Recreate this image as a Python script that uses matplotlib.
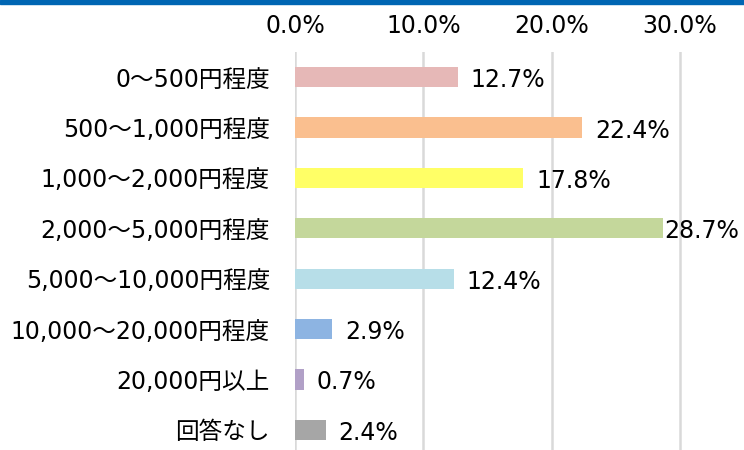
import numpy as np
import matplotlib.pyplot as plt

categories = ['0～500円程度', '500～1,000円程度', '1,000～2,000円程度', '2,000～5,000円程度',
              '5,000～10,000円程度', '10,000～20,000円程度', '20,000円以上', '回答なし']
values = [12.7, 22.4, 17.8, 28.7, 12.4, 2.9, 0.7, 2.4]
colors = ['#E6B8B7', '#FABF8F', '#FFFF66', '#C4D79B', '#B7DEE8', '#8DB4E2', '#B1A0C7', '#A6A6A6']
ticks = [0, 10, 20, 30]

plt.rcParams['font.family'] = ['DejaVu Sans', 'Noto Sans CJK JP']
fs = 17

fig = plt.figure(figsize=(7.44, 4.5), dpi=100)
fig.patches.append(plt.Rectangle((0, 446 / 450), 1, 4 / 450, transform=fig.transFigure,
                                 color='#0066B3', zorder=5))
ax = fig.add_axes([295 / 744, -5 / 450, 449 / 744, 403 / 450])

y = np.arange(len(categories))
ax.barh(y, values, height=0.4, color=colors, zorder=3)

ax.set_xlim(0, 35)
ax.set_ylim(len(categories) - 0.5, -0.5)
ax.set_xticks(ticks)
ax.set_xticklabels(['{0:.1f}%'.format(t) for t in ticks], fontsize=fs)
ax.xaxis.tick_top()
ax.tick_params(axis='x', length=0, pad=10)
ax.set_yticks(y)
ax.set_yticklabels(categories, fontsize=fs)
ax.tick_params(axis='y', length=0, pad=18)
ax.grid(axis='x', color='#D9D9D9', linewidth=1.8, zorder=0)
for s in ax.spines.values():
    s.set_visible(False)

# value labels, pulled back inside the figure when they would run off the edge
fig.canvas.draw()
r = fig.canvas.get_renderer()
for yi, v in zip(y, values):
    t = ax.text(v + 1.0, yi + 0.06, '{0:.1f}%'.format(v), va='center', ha='left', fontsize=fs, zorder=4)
    bb = t.get_window_extent(r)
    over = bb.x1 - (fig.bbox.width - 5)
    if over > 0:
        x_disp = ax.transData.transform((v + 1.0, yi))[0] - over
        t.set_x(ax.transData.inverted().transform((x_disp, 0))[0])

fig.savefig('out.png', dpi=100)
